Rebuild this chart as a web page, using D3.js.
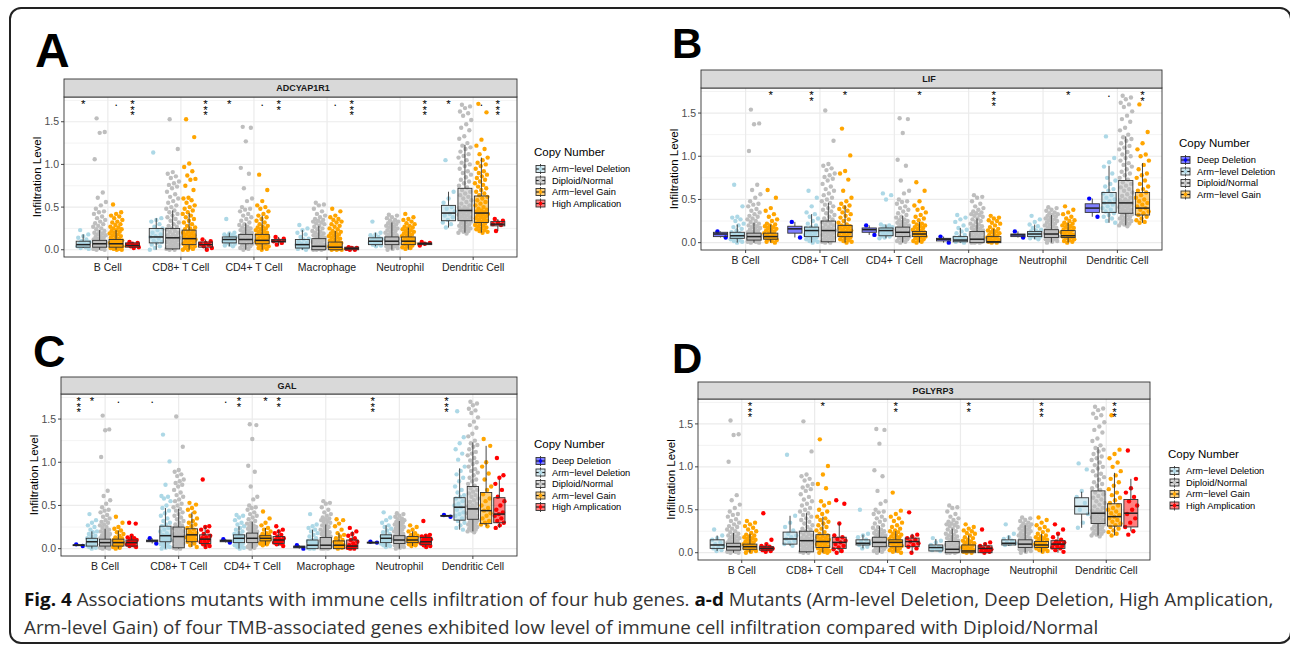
<!DOCTYPE html>
<html>
<head>
<meta charset="utf-8">
<script src="https://cdn.jsdelivr.net/npm/d3@7"></script>
<style>
body { margin: 0; background: #fff; }
svg { display: block; }
</style>
</head>
<body>
<script>
var cells = ["B Cell", "CD8+ T Cell", "CD4+ T Cell", "Macrophage", "Neutrophil", "Dendritic Cell"];
var yTicks = [0, 0.5, 1.0, 1.5];
var yMinor = [0.25, 0.75, 1.25, 1.75];

var colDeep = "#0000FF", colDel = "#ADD8E6", colDip = "#BEBEBE", colGain = "#FFA500", colAmp = "#FF0000";

// box = [lower whisker, Q1, median, Q3, upper whisker], pts = sample values (jittered)
// Diploid/Normal looks the same in all four genes
var diploid = [
  {box: [0.0, 0.03, 0.07, 0.11, 0.23], pts: [1.54,1.38,1.37,1.06,0.67,0.61,0.56,0.52,0.48,0.45,0.44,0.42,0.39,0.37,0.35,0.33,0.31,0.3,0.28,0.27,0.25,0.24,0.22,0.21,0.2,0.19,0.18,0.17,0.16,0.15,0.14,0.13,0.12,0.12,0.11,0.1,0.1,0.09,0.09,0.08,0.08,0.07,0.07,0.06,0.06,0.05,0.05,0.04,0.04,0.03,0.03,0.02,0.02,0.01,0.01,0.0,0.0]},
  {box: [0.0, 0.01, 0.14, 0.25, 0.46], pts: [1.53,1.18,0.91,0.89,0.86,0.84,0.8,0.78,0.76,0.74,0.72,0.68,0.65,0.62,0.6,0.57,0.55,0.52,0.5,0.48,0.46,0.44,0.42,0.4,0.38,0.36,0.34,0.32,0.3,0.28,0.27,0.25,0.24,0.22,0.21,0.2,0.18,0.17,0.16,0.15,0.14,0.13,0.12,0.11,0.1,0.09,0.08,0.07,0.06,0.05,0.04,0.03,0.02,0.01,0.0,0.0]},
  {box: [0.0, 0.07, 0.12, 0.18, 0.31], pts: [1.44,1.43,1.27,0.96,0.89,0.72,0.6,0.57,0.5,0.48,0.47,0.45,0.42,0.4,0.38,0.36,0.34,0.32,0.3,0.29,0.27,0.26,0.25,0.24,0.23,0.22,0.21,0.2,0.19,0.18,0.17,0.16,0.15,0.14,0.13,0.12,0.11,0.1,0.09,0.08,0.07,0.06,0.05,0.04,0.03,0.02,0.01,0.0]},
  {box: [0.0, 0.0, 0.04, 0.13, 0.28], pts: [0.55,0.53,0.52,0.48,0.45,0.42,0.4,0.38,0.36,0.35,0.34,0.33,0.32,0.31,0.3,0.28,0.27,0.25,0.24,0.22,0.21,0.2,0.19,0.18,0.17,0.16,0.15,0.14,0.13,0.12,0.11,0.1,0.09,0.08,0.07,0.06,0.05,0.04,0.04,0.03,0.03,0.02,0.02,0.01,0.01,0.0,0.0,0.0]},
  {box: [0.0, 0.06, 0.1, 0.15, 0.32], pts: [0.41,0.4,0.38,0.37,0.35,0.34,0.33,0.32,0.31,0.3,0.29,0.28,0.27,0.26,0.25,0.24,0.23,0.22,0.21,0.2,0.19,0.18,0.17,0.16,0.15,0.14,0.14,0.13,0.13,0.12,0.12,0.11,0.11,0.1,0.1,0.09,0.09,0.08,0.08,0.07,0.07,0.06,0.06,0.05,0.05,0.04,0.04,0.03,0.02,0.01,0.0]},
  {box: [0.2, 0.34, 0.46, 0.72, 1.23], pts: [1.7,1.68,1.66,1.62,1.6,1.57,1.52,1.47,1.43,1.4,1.33,1.3,1.25,1.22,1.2,1.18,1.15,1.12,1.1,1.08,1.05,1.02,1.0,0.98,0.95,0.92,0.9,0.88,0.85,0.82,0.8,0.78,0.75,0.73,0.7,0.68,0.66,0.64,0.62,0.6,0.58,0.56,0.54,0.52,0.5,0.49,0.48,0.47,0.46,0.45,0.44,0.43,0.42,0.41,0.4,0.39,0.38,0.37,0.36,0.35,0.34,0.33,0.32,0.31,0.3,0.29,0.28,0.27,0.26,0.25,0.24,0.23,0.22,0.21,0.2,0.19]}
];

// ADCYAP1R1
var adcyDel = [
  {box: [0.02, 0.03, 0.06, 0.1, 0.18], pts: [0.23,0.18,0.16,0.14,0.12,0.1,0.09,0.08,0.07,0.06,0.05,0.04,0.03,0.02,0.01]},
  {box: [0.0, 0.08, 0.15, 0.25, 0.37], pts: [1.14,0.37,0.35,0.33,0.3,0.27,0.25,0.23,0.2,0.18,0.16,0.15,0.13,0.11,0.09,0.08,0.06,0.04,0.02,0.0]},
  {box: [0.04, 0.08, 0.12, 0.15, 0.2], pts: [0.36,0.2,0.19,0.18,0.17,0.16,0.15,0.14,0.13,0.12,0.11,0.1,0.09,0.08,0.07,0.06,0.05,0.04]},
  {box: [0.0, 0.02, 0.06, 0.12, 0.23], pts: [0.29,0.25,0.23,0.2,0.18,0.15,0.13,0.12,0.1,0.08,0.07,0.06,0.05,0.04,0.03,0.02,0.01,0.0]},
  {box: [0.04, 0.06, 0.1, 0.14, 0.2], pts: [0.33,0.2,0.18,0.17,0.15,0.14,0.13,0.12,0.11,0.1,0.09,0.08,0.07,0.06,0.05,0.04]},
  {box: [0.26, 0.34, 0.43, 0.52, 0.68], pts: [1.05,0.68,0.6,0.55,0.5,0.48,0.45,0.42,0.4,0.38,0.35,0.32,0.3,0.26]}
];
var adcyGain = [
  {box: [0.0, 0.03, 0.07, 0.12, 0.23], pts: [0.53,0.44,0.42,0.4,0.39,0.37,0.35,0.33,0.32,0.3,0.29,0.27,0.26,0.25,0.24,0.23,0.22,0.21,0.2,0.19,0.18,0.17,0.16,0.15,0.14,0.13,0.12,0.11,0.1,0.1,0.09,0.09,0.08,0.08,0.07,0.07,0.06,0.06,0.05,0.05,0.04,0.04,0.03,0.03,0.02,0.02,0.01,0.01,0.0,0.0]},
  {box: [0.0, 0.06, 0.13, 0.23, 0.43], pts: [1.53,1.32,1.01,0.97,0.92,0.87,0.83,0.82,0.75,0.7,0.61,0.6,0.58,0.55,0.52,0.5,0.48,0.46,0.44,0.42,0.4,0.38,0.36,0.34,0.32,0.3,0.28,0.26,0.25,0.24,0.22,0.21,0.2,0.19,0.18,0.17,0.16,0.15,0.14,0.13,0.12,0.11,0.1,0.09,0.08,0.07,0.06,0.05,0.04,0.03,0.02,0.01,0.0,0.0]},
  {box: [0.0, 0.07, 0.11, 0.18, 0.4], pts: [0.88,0.7,0.57,0.52,0.5,0.48,0.45,0.42,0.4,0.38,0.36,0.34,0.32,0.3,0.28,0.27,0.26,0.25,0.24,0.23,0.22,0.21,0.2,0.19,0.18,0.17,0.16,0.15,0.14,0.13,0.12,0.11,0.1,0.1,0.09,0.09,0.08,0.07,0.06,0.05,0.04,0.03,0.02,0.01,0.0]},
  {box: [0.0, 0.0, 0.03, 0.09, 0.22], pts: [0.48,0.45,0.4,0.38,0.36,0.35,0.33,0.32,0.3,0.28,0.27,0.25,0.24,0.22,0.21,0.2,0.19,0.18,0.17,0.16,0.15,0.14,0.13,0.12,0.11,0.1,0.09,0.08,0.07,0.06,0.05,0.05,0.04,0.04,0.03,0.03,0.02,0.02,0.01,0.01,0.0,0.0,0.0]},
  {box: [0.0, 0.06, 0.1, 0.15, 0.26], pts: [0.42,0.38,0.36,0.35,0.33,0.31,0.3,0.28,0.27,0.26,0.25,0.24,0.23,0.22,0.21,0.2,0.19,0.18,0.17,0.16,0.15,0.14,0.13,0.12,0.11,0.1,0.09,0.08,0.07,0.06,0.05,0.04,0.03,0.02,0.01]},
  {box: [0.2, 0.32, 0.43, 0.63, 1.08], pts: [1.71,1.61,1.29,1.22,1.18,1.12,1.08,1.05,1.02,1.0,0.98,0.95,0.92,0.9,0.88,0.86,0.84,0.82,0.8,0.78,0.76,0.74,0.72,0.7,0.68,0.66,0.64,0.62,0.6,0.58,0.56,0.54,0.52,0.5,0.48,0.47,0.46,0.45,0.44,0.43,0.42,0.41,0.4,0.39,0.38,0.37,0.36,0.35,0.34,0.33,0.32,0.31,0.3,0.29,0.28,0.27,0.26,0.25,0.24,0.23,0.22,0.21,0.2]}
];
var adcyAmp = [
  {box: [0.02, 0.03, 0.05, 0.08, 0.09], pts: [0.09,0.08,0.07,0.06,0.05,0.04,0.03,0.02]},
  {box: [0.0, 0.03, 0.06, 0.09, 0.12], pts: [0.12,0.1,0.08,0.07,0.06,0.04,0.02,0.0]},
  {box: [0.05, 0.09, 0.1, 0.12, 0.15], pts: [0.15,0.13,0.11,0.1,0.08,0.06]},
  {box: [0.0, 0.0, 0.015, 0.03, 0.03], pts: [0.03,0.02,0.02,0.01,0.0,0.0]},
  {box: [0.05, 0.06, 0.07, 0.08, 0.09], pts: [0.09,0.08,0.07,0.05]},
  {box: [0.22, 0.28, 0.3, 0.33, 0.36], pts: [0.36,0.34,0.32,0.3,0.29,0.22]}
];
var adcySig = [
  ["*", "", "*", "", "", "*"],
  null,
  [".", "", ".", ".", "", "."],
  ["***", "***", "**", "***", "***", "***"]
];

// LIF
var lifDeep = [
  {box: [0.06, 0.07, 0.1, 0.12, 0.13], pts: [0.13,0.06]},
  {box: [0.06, 0.11, 0.16, 0.19, 0.24], pts: [0.24,0.06]},
  {box: [0.09, 0.12, 0.15, 0.17, 0.2], pts: [0.2,0.09]},
  {box: [0.0, 0.02, 0.04, 0.05, 0.07], pts: [0.07,0.0]},
  {box: [0.06, 0.07, 0.09, 0.1, 0.13], pts: [0.13,0.06]},
  {box: [0.3, 0.35, 0.4, 0.45, 0.51], pts: [0.51,0.3]}
];
var lifDel = [
  {box: [0.0, 0.05, 0.08, 0.12, 0.21], pts: [0.67,0.42,0.3,0.29,0.27,0.25,0.22,0.2,0.18,0.16,0.14,0.12,0.11,0.1,0.09,0.08,0.07,0.06,0.05,0.04,0.03,0.02,0.01,0.0]},
  {box: [0.0, 0.07, 0.14, 0.18, 0.33], pts: [0.6,0.52,0.42,0.35,0.33,0.3,0.28,0.25,0.22,0.2,0.18,0.17,0.16,0.15,0.14,0.13,0.12,0.11,0.1,0.09,0.08,0.07,0.06,0.05,0.04,0.03,0.02,0.01,0.0]},
  {box: [0.05, 0.08, 0.14, 0.17, 0.21], pts: [0.57,0.55,0.5,0.21,0.2,0.19,0.18,0.17,0.16,0.15,0.14,0.13,0.12,0.11,0.1,0.09,0.08,0.07,0.06,0.05]},
  {box: [0.0, 0.01, 0.03, 0.07, 0.17], pts: [0.32,0.29,0.27,0.24,0.2,0.17,0.15,0.13,0.11,0.09,0.07,0.06,0.05,0.04,0.03,0.02,0.01,0.0]},
  {box: [0.04, 0.07, 0.1, 0.13, 0.21], pts: [0.31,0.27,0.24,0.21,0.19,0.17,0.15,0.14,0.13,0.12,0.11,0.1,0.09,0.08,0.07,0.06,0.05,0.04]},
  {box: [0.23, 0.35, 0.46, 0.58, 0.89], pts: [1.23,0.98,0.93,0.88,0.8,0.75,0.72,0.68,0.65,0.62,0.6,0.57,0.55,0.52,0.5,0.48,0.46,0.44,0.42,0.4,0.38,0.36,0.34,0.32,0.3,0.28,0.25,0.23]}
];
var lifGain = [
  {box: [0.0, 0.04, 0.07, 0.11, 0.21], pts: [0.61,0.52,0.4,0.37,0.33,0.3,0.27,0.25,0.22,0.21,0.2,0.19,0.18,0.17,0.16,0.15,0.14,0.13,0.12,0.11,0.1,0.09,0.08,0.07,0.06,0.05,0.04,0.03,0.02,0.01,0.0]},
  {box: [0.0, 0.07, 0.12, 0.2, 0.43], pts: [1.32,1.01,0.83,0.8,0.73,0.6,0.52,0.48,0.45,0.43,0.41,0.39,0.37,0.35,0.33,0.31,0.29,0.27,0.25,0.23,0.21,0.2,0.19,0.18,0.17,0.16,0.15,0.14,0.13,0.12,0.11,0.1,0.09,0.08,0.07,0.06,0.05,0.04,0.03,0.02,0.01,0.0]},
  {box: [0.0, 0.07, 0.1, 0.13, 0.24], pts: [0.7,0.6,0.48,0.43,0.4,0.38,0.35,0.32,0.3,0.28,0.26,0.24,0.22,0.21,0.2,0.19,0.18,0.17,0.16,0.15,0.14,0.13,0.12,0.11,0.1,0.09,0.08,0.07,0.06,0.05,0.04,0.03,0.02,0.01,0.0]},
  {box: [0.0, 0.0, 0.01, 0.07, 0.16], pts: [0.31,0.29,0.28,0.26,0.25,0.23,0.22,0.2,0.18,0.16,0.15,0.14,0.13,0.12,0.11,0.1,0.09,0.08,0.07,0.06,0.05,0.04,0.03,0.02,0.01,0.0,0.0]},
  {box: [0.0, 0.06, 0.08, 0.14, 0.23], pts: [0.42,0.38,0.35,0.33,0.3,0.28,0.26,0.25,0.23,0.22,0.21,0.2,0.19,0.18,0.17,0.16,0.15,0.14,0.13,0.12,0.11,0.1,0.09,0.08,0.07,0.06,0.05,0.04,0.03,0.02,0.01,0.0]},
  {box: [0.23, 0.32, 0.4, 0.58, 0.92], pts: [1.6,1.28,1.15,1.08,1.02,1.0,0.95,0.9,0.85,0.8,0.78,0.75,0.72,0.68,0.65,0.62,0.6,0.58,0.55,0.52,0.5,0.48,0.46,0.44,0.42,0.4,0.38,0.36,0.34,0.32,0.3,0.28,0.26,0.24,0.23]}
];
var lifSig = [
  ["", "", "", "", "", ""],
  ["", "**", "", "", "", "."],
  null,
  ["*", "*", "*", "***", "*", "**"]
];

// GAL
var galDeep = [
  {box: [0.03, 0.035, 0.04, 0.045, 0.05], pts: [0.05,0.03]},
  {box: [0.06, 0.08, 0.09, 0.1, 0.12], pts: [0.12,0.06]},
  {box: [0.07, 0.08, 0.09, 0.1, 0.11], pts: [0.11,0.07]},
  {box: [0.0, 0.01, 0.02, 0.03, 0.04], pts: [0.04,0.0]},
  {box: [0.06, 0.065, 0.07, 0.075, 0.08], pts: [0.08,0.07]},
  {box: [0.37, 0.375, 0.38, 0.385, 0.39], pts: [0.39,0.37]}
];
var galDel = [
  {box: [0.0, 0.03, 0.08, 0.12, 0.2], pts: [0.4,0.33,0.3,0.27,0.25,0.22,0.2,0.19,0.17,0.15,0.14,0.12,0.11,0.1,0.09,0.08,0.07,0.06,0.05,0.04,0.03,0.02,0.01,0.0]},
  {box: [0.0, 0.08, 0.15, 0.26, 0.47], pts: [1.32,1.01,0.74,0.61,0.6,0.58,0.55,0.5,0.47,0.44,0.41,0.38,0.35,0.32,0.3,0.28,0.26,0.24,0.22,0.2,0.18,0.16,0.15,0.14,0.13,0.12,0.11,0.1,0.09,0.08,0.07,0.06,0.05,0.04,0.03,0.02,0.01,0.0]},
  {box: [0.0, 0.07, 0.12, 0.16, 0.26], pts: [0.39,0.38,0.36,0.33,0.3,0.28,0.26,0.24,0.22,0.2,0.18,0.17,0.16,0.15,0.14,0.13,0.12,0.11,0.1,0.09,0.08,0.07,0.06,0.05,0.04,0.03,0.02,0.01,0.0]},
  {box: [0.0, 0.0, 0.04, 0.1, 0.22], pts: [0.4,0.28,0.26,0.24,0.22,0.2,0.18,0.16,0.14,0.12,0.1,0.09,0.08,0.07,0.06,0.05,0.04,0.03,0.02,0.01,0.0,0.0]},
  {box: [0.02, 0.07, 0.12, 0.16, 0.27], pts: [0.42,0.36,0.33,0.3,0.27,0.25,0.23,0.21,0.19,0.17,0.15,0.14,0.13,0.12,0.11,0.1,0.09,0.08,0.07,0.06,0.05,0.04,0.03,0.02]},
  {box: [0.22, 0.33, 0.48, 0.59, 0.93], pts: [1.59,1.29,1.22,1.15,1.1,1.03,0.95,0.9,0.86,0.82,0.78,0.72,0.68,0.65,0.62,0.6,0.58,0.55,0.52,0.5,0.48,0.45,0.42,0.4,0.38,0.35,0.32,0.3,0.27,0.24,0.22]}
];
var galGain = [
  {box: [0.0, 0.03, 0.07, 0.11, 0.21], pts: [0.37,0.3,0.25,0.23,0.21,0.19,0.17,0.15,0.13,0.12,0.11,0.1,0.09,0.08,0.07,0.06,0.05,0.04,0.03,0.02,0.01,0.0]},
  {box: [0.02, 0.08, 0.16, 0.23, 0.42], pts: [0.53,0.51,0.47,0.45,0.42,0.38,0.35,0.32,0.3,0.28,0.26,0.24,0.22,0.2,0.18,0.17,0.16,0.15,0.14,0.13,0.12,0.11,0.1,0.09,0.08,0.06,0.04,0.02]},
  {box: [0.04, 0.09, 0.12, 0.15, 0.24], pts: [0.43,0.35,0.3,0.27,0.24,0.22,0.2,0.18,0.17,0.16,0.15,0.14,0.13,0.12,0.11,0.1,0.09,0.08,0.07,0.06,0.05,0.04]},
  {box: [0.0, 0.0, 0.04, 0.09, 0.18], pts: [0.34,0.33,0.29,0.26,0.22,0.18,0.16,0.14,0.12,0.1,0.09,0.08,0.06,0.05,0.04,0.03,0.02,0.01,0.0]},
  {box: [0.03, 0.07, 0.1, 0.14, 0.2], pts: [0.27,0.25,0.22,0.2,0.18,0.16,0.15,0.14,0.13,0.12,0.11,0.1,0.09,0.08,0.07,0.06,0.05,0.04,0.03]},
  {box: [0.26, 0.29, 0.44, 0.65, 1.19], pts: [1.27,1.19,1.0,0.95,0.87,0.8,0.72,0.68,0.63,0.58,0.55,0.5,0.47,0.44,0.41,0.38,0.35,0.32,0.3,0.28,0.26]}
];
var galAmp = [
  {box: [0.02, 0.03, 0.07, 0.1, 0.15], pts: [0.3,0.29,0.15,0.13,0.12,0.11,0.1,0.09,0.08,0.07,0.06,0.05,0.04,0.03,0.02]},
  {box: [0.02, 0.06, 0.11, 0.16, 0.26], pts: [0.8,0.26,0.25,0.22,0.2,0.17,0.15,0.13,0.12,0.1,0.09,0.08,0.06,0.05,0.03,0.02]},
  {box: [0.03, 0.06, 0.1, 0.14, 0.22], pts: [0.26,0.22,0.2,0.18,0.16,0.14,0.12,0.11,0.1,0.09,0.08,0.07,0.06,0.05,0.03]},
  {box: [0.0, 0.0, 0.03, 0.1, 0.2], pts: [0.24,0.2,0.17,0.15,0.12,0.1,0.08,0.06,0.04,0.03,0.02,0.01,0.0,0.0]},
  {box: [0.02, 0.05, 0.08, 0.13, 0.16], pts: [0.32,0.16,0.15,0.14,0.13,0.12,0.11,0.1,0.09,0.08,0.07,0.06,0.05,0.04,0.03,0.02]},
  {box: [0.24, 0.3, 0.4, 0.59, 0.8], pts: [1.05,0.85,0.82,0.75,0.68,0.6,0.55,0.5,0.45,0.42,0.4,0.38,0.35,0.32,0.3,0.27,0.24]}
];
var galSig = [
  ["***", ".", ".", "", "***", "***"],
  ["*", "", "**", "", "", ""],
  null,
  [".", "", "*", "", "", ""],
  ["", "", "**", "", "", ""]
];

// PGLYRP3
var pglyDel = [
  {box: [0.02, 0.05, 0.09, 0.15, 0.2], pts: [0.27,0.2,0.17,0.15,0.12,0.1,0.08,0.06,0.05,0.03,0.02]},
  {box: [0.08, 0.1, 0.16, 0.24, 0.43], pts: [1.14,0.43,0.35,0.3,0.26,0.22,0.2,0.18,0.16,0.14,0.12,0.1,0.08]},
  {box: [0.05, 0.09, 0.11, 0.15, 0.21], pts: [0.5,0.22,0.2,0.18,0.15,0.13,0.11,0.1,0.09,0.07,0.05]},
  {box: [0.02, 0.02, 0.06, 0.09, 0.16], pts: [0.17,0.14,0.12,0.09,0.07,0.06,0.05,0.04,0.03,0.02]},
  {box: [0.08, 0.09, 0.11, 0.15, 0.2], pts: [0.33,0.22,0.18,0.16,0.14,0.12,0.11,0.1,0.09]},
  {box: [0.29, 0.45, 0.54, 0.64, 0.71], pts: [1.04,0.97,0.72,0.65,0.58,0.5,0.45,0.35,0.29]}
];
var pglyGain = [
  {box: [0.0, 0.04, 0.07, 0.1, 0.22], pts: [0.37,0.35,0.33,0.31,0.29,0.27,0.25,0.23,0.21,0.2,0.19,0.18,0.17,0.16,0.15,0.14,0.13,0.12,0.11,0.1,0.09,0.08,0.07,0.06,0.05,0.04,0.03,0.02,0.01,0.0]},
  {box: [0.0, 0.06, 0.13, 0.21, 0.42], pts: [1.32,1.01,0.91,0.8,0.75,0.6,0.58,0.55,0.5,0.48,0.45,0.42,0.4,0.38,0.36,0.34,0.32,0.3,0.28,0.26,0.24,0.22,0.2,0.19,0.18,0.17,0.16,0.15,0.14,0.13,0.12,0.11,0.1,0.09,0.08,0.07,0.06,0.05,0.04,0.03,0.02,0.01,0.0,0.0]},
  {box: [0.0, 0.07, 0.12, 0.15, 0.25], pts: [0.7,0.49,0.45,0.42,0.4,0.37,0.35,0.32,0.3,0.28,0.26,0.25,0.24,0.22,0.21,0.2,0.19,0.18,0.17,0.16,0.15,0.14,0.13,0.12,0.11,0.1,0.09,0.08,0.07,0.06,0.05,0.04,0.03,0.02,0.01,0.0]},
  {box: [0.0, 0.0, 0.02, 0.09, 0.2], pts: [0.33,0.3,0.28,0.26,0.25,0.23,0.22,0.2,0.18,0.17,0.15,0.14,0.13,0.12,0.11,0.1,0.09,0.08,0.07,0.06,0.05,0.04,0.03,0.02,0.01,0.0,0.0]},
  {box: [0.0, 0.06, 0.09, 0.13, 0.22], pts: [0.41,0.38,0.35,0.32,0.3,0.28,0.26,0.24,0.22,0.2,0.19,0.18,0.17,0.16,0.15,0.14,0.13,0.12,0.11,0.1,0.09,0.08,0.07,0.06,0.05,0.04,0.03,0.02,0.01]},
  {box: [0.2, 0.31, 0.42, 0.57, 0.93], pts: [1.6,1.2,1.15,1.1,1.05,1.0,0.95,0.9,0.86,0.82,0.78,0.74,0.7,0.67,0.64,0.61,0.58,0.55,0.52,0.5,0.48,0.46,0.44,0.42,0.4,0.38,0.36,0.34,0.32,0.3,0.28,0.26,0.24,0.22,0.2]}
];
var pglyAmp = [
  {box: [0.02, 0.03, 0.05, 0.07, 0.1], pts: [0.46,0.15,0.1,0.08,0.07,0.06,0.05,0.04,0.03,0.02,0.01]},
  {box: [0.0, 0.05, 0.12, 0.18, 0.35], pts: [0.61,0.57,0.34,0.2,0.18,0.16,0.14,0.12,0.1,0.08,0.06,0.04,0.02,0.0]},
  {box: [0.0, 0.07, 0.13, 0.17, 0.22], pts: [0.47,0.21,0.19,0.17,0.15,0.13,0.11,0.09,0.07,0.05,0.0]},
  {box: [0.0, 0.0, 0.05, 0.08, 0.12], pts: [0.27,0.12,0.1,0.08,0.06,0.05,0.04,0.03,0.02,0.01,0.0]},
  {box: [0.0, 0.05, 0.1, 0.14, 0.22], pts: [0.33,0.27,0.22,0.18,0.15,0.13,0.12,0.11,0.1,0.08,0.07,0.06,0.05,0.03,0.01]},
  {box: [0.25, 0.3, 0.46, 0.62, 0.86], pts: [1.19,0.86,0.75,0.7,0.65,0.6,0.55,0.5,0.45,0.4,0.35,0.3,0.25,0.21]}
];
var pglySig = [
  ["", "", "", "", "", ""],
  null,
  ["***", "*", "**", "**", "***", "***"],
  ["", "", "", "", "", ""]
];

var gDeep = {name: "Deep Deletion", color: colDeep};
var gDel = {name: "Arm\u2212level Deletion", color: colDel};
var gDip = {name: "Diploid/Normal", color: colDip};
var gGain = {name: "Arm\u2212level Gain", color: colGain};
var gAmp = {name: "High Amplication", color: colAmp};

var panels = [
  {letter: "A", lx: 35, ly: 67, lsize: 48, gene: "ADCYAP1R1", geneX: 303, x0: 64, x1: 517, stripTop: 79, top: 97, bottom: 257, legX: 534, legY: 156,
   groups: [gDel, gDip, gGain, gAmp], data: [adcyDel, diploid, adcyGain, adcyAmp], sig: adcySig},
  {letter: "B", lx: 672, ly: 58, lsize: 42, gene: "LIF", geneX: 929, x0: 701, x1: 1162, stripTop: 70, top: 88, bottom: 250, legX: 1179, legY: 147,
   groups: [gDeep, gDel, gDip, gGain], data: [lifDeep, lifDel, diploid, lifGain], sig: lifSig},
  {letter: "C", lx: 33, ly: 367, lsize: 45, gene: "GAL", geneX: 287, x0: 61, x1: 517, stripTop: 377, top: 394, bottom: 556, legX: 534, legY: 448,
   groups: [gDeep, gDel, gDip, gGain, gAmp], data: [galDeep, galDel, diploid, galGain, galAmp], sig: galSig},
  {letter: "D", lx: 672, ly: 373, lsize: 42, gene: "PGLYRP3", geneX: 933, x0: 698, x1: 1150, stripTop: 382, top: 399, bottom: 560, legX: 1168, legY: 458,
   groups: [gDel, gDip, gGain, gAmp], data: [pglyDel, diploid, pglyGain, pglyAmp], sig: pglySig}
];

var svg = d3.select("body").append("svg")
    .attr("width", 1290)
    .attr("height", 645)
    .style("font-family", "'Liberation Sans', Arial, Helvetica, sans-serif");

svg.append("rect")
    .attr("x", 10).attr("y", 8)
    .attr("width", 1281).attr("height", 635)
    .attr("rx", 11)
    .attr("fill", "#fff").attr("stroke", "#222").attr("stroke-width", 2);

panels.forEach(drawPanel);

function drawPanel(p) {
  var x = d3.scalePoint().domain(cells).range([p.x0, p.x1]).padding(0.6);
  var y = d3.scaleLinear().domain([-0.085, 1.79]).range([p.bottom, p.top]);
  var n = p.groups.length,
      slot = x.step() * 0.9 / n,
      bw = slot * 0.85;

  var g = svg.append("g");

  g.append("text")
      .attr("x", p.lx).attr("y", p.ly)
      .attr("font-size", p.lsize).attr("font-weight", "bold")
      .text(p.letter);

  // grid
  g.selectAll(null).data(yMinor).enter().append("line")
      .attr("x1", p.x0).attr("x2", p.x1)
      .attr("y1", function(d) { return y(d); }).attr("y2", function(d) { return y(d); })
      .attr("stroke", "#EBEBEB").attr("stroke-width", 0.6);
  g.selectAll(null).data(yTicks).enter().append("line")
      .attr("x1", p.x0).attr("x2", p.x1)
      .attr("y1", function(d) { return y(d); }).attr("y2", function(d) { return y(d); })
      .attr("stroke", "#EBEBEB").attr("stroke-width", 1.2);
  g.selectAll(null).data(cells).enter().append("line")
      .attr("x1", function(d) { return x(d); }).attr("x2", function(d) { return x(d); })
      .attr("y1", p.top).attr("y2", p.bottom)
      .attr("stroke", "#EBEBEB").attr("stroke-width", 1.2);

  // jittered points
  p.data.forEach(function(series, gi) {
    var off = (gi - (n - 1) / 2) * slot;
    series.forEach(function(d, ci) {
      var cx = x(cells[ci]) + off;
      g.selectAll(null).data(d.pts).enter().append("circle")
          .attr("cx", function(v, i) { return cx + (((i * 0.618034 + 0.27) % 1) - 0.5) * slot * 0.8; })
          .attr("cy", function(v) { return y(v); })
          .attr("r", 2.2)
          .attr("fill", p.groups[gi].color);
    });
  });

  // boxes
  p.data.forEach(function(series, gi) {
    var off = (gi - (n - 1) / 2) * slot;
    var col = p.groups[gi].color;
    series.forEach(function(d, ci) {
      var cx = x(cells[ci]) + off, b = d.box;
      var bg = g.append("g");
      bg.append("line").attr("x1", cx).attr("x2", cx).attr("y1", y(b[4])).attr("y2", y(b[3]))
          .attr("stroke", "#333").attr("stroke-width", 0.9);
      bg.append("line").attr("x1", cx).attr("x2", cx).attr("y1", y(b[1])).attr("y2", y(b[0]))
          .attr("stroke", "#333").attr("stroke-width", 0.9);
      bg.append("rect")
          .attr("x", cx - bw / 2).attr("width", bw)
          .attr("y", y(b[3])).attr("height", Math.max(0.5, y(b[1]) - y(b[3])))
          .attr("fill", col).attr("fill-opacity", 0.5)
          .attr("stroke", "#333").attr("stroke-width", 0.9);
      bg.append("line").attr("x1", cx - bw / 2).attr("x2", cx + bw / 2).attr("y1", y(b[2])).attr("y2", y(b[2]))
          .attr("stroke", "#222").attr("stroke-width", 1.5);
    });
  });

  // significance marks: vertical text, stars stacked upright
  p.sig.forEach(function(row, gi) {
    if (!row) return;
    var off = (gi - (n - 1) / 2) * slot;
    row.forEach(function(lab, ci) {
      if (!lab) return;
      var cx = x(cells[ci]) + off;
      if (lab === ".") {
        g.append("text").attr("x", cx).attr("y", p.top + 9)
            .attr("text-anchor", "middle").attr("font-size", 12).attr("fill", "#000").text(".");
      } else {
        g.append("text")
            .attr("x", cx).attr("y", p.top + 1)
            .style("writing-mode", "vertical-rl")
            .style("text-orientation", "upright")
            .style("letter-spacing", "-6.5px")
            .attr("font-size", 11.5).attr("fill", "#000")
            .text(lab);
      }
    });
  });

  // panel border and strip
  g.append("rect").attr("x", p.x0).attr("y", p.top).attr("width", p.x1 - p.x0).attr("height", p.bottom - p.top)
      .attr("fill", "none").attr("stroke", "#333").attr("stroke-width", 0.9);
  g.append("rect").attr("x", p.x0).attr("y", p.stripTop).attr("width", p.x1 - p.x0).attr("height", p.top - p.stripTop)
      .attr("fill", "#D9D9D9").attr("stroke", "#333").attr("stroke-width", 0.9);
  g.append("text").attr("x", p.geneX).attr("y", (p.stripTop + p.top) / 2 + 3.3)
      .attr("text-anchor", "middle").attr("font-size", 9).attr("font-weight", "bold").attr("fill", "#1A1A1A")
      .text(p.gene);

  // y axis
  g.selectAll(null).data(yTicks).enter().append("line")
      .attr("x1", p.x0 - 3).attr("x2", p.x0)
      .attr("y1", function(d) { return y(d); }).attr("y2", function(d) { return y(d); })
      .attr("stroke", "#333").attr("stroke-width", 0.9);
  g.selectAll(null).data(yTicks).enter().append("text")
      .attr("x", p.x0 - 5).attr("y", function(d) { return y(d) + 3.6; })
      .attr("text-anchor", "end").attr("font-size", 10.5).attr("fill", "#4D4D4D")
      .text(function(d) { return d3.format(".1f")(d); });
  g.append("text")
      .attr("transform", "translate(" + (p.x0 - 27) + "," + ((p.top + p.bottom) / 2) + ") rotate(-90)")
      .attr("text-anchor", "middle").attr("dy", "0.35em").attr("font-size", 11.5).attr("fill", "#000")
      .text("Infiltration Level");

  // x axis
  g.selectAll(null).data(cells).enter().append("line")
      .attr("x1", function(d) { return x(d); }).attr("x2", function(d) { return x(d); })
      .attr("y1", p.bottom).attr("y2", p.bottom + 3)
      .attr("stroke", "#333").attr("stroke-width", 0.9);
  g.selectAll(null).data(cells).enter().append("text")
      .attr("x", function(d) { return x(d); }).attr("y", p.bottom + 14)
      .attr("text-anchor", "middle").attr("font-size", 10.5).attr("fill", "#222")
      .text(function(d) { return d; });

  // legend
  var lg = g.append("g");
  lg.append("text").attr("x", p.legX).attr("y", p.legY)
      .attr("font-size", 11.5).attr("fill", "#000").text("Copy Number");
  p.groups.forEach(function(gr, i) {
    var yc = p.legY + 13 + i * 11.5, kx = p.legX + 6.5;
    lg.append("line").attr("x1", kx).attr("x2", kx).attr("y1", yc - 5).attr("y2", yc + 5)
        .attr("stroke", "#333").attr("stroke-width", 0.9);
    lg.append("rect").attr("x", kx - 4.5).attr("y", yc - 3.5).attr("width", 9).attr("height", 7)
        .attr("fill", gr.color).attr("fill-opacity", 0.5).attr("stroke", "#333").attr("stroke-width", 0.9);
    lg.append("line").attr("x1", kx - 4.5).attr("x2", kx + 4.5).attr("y1", yc).attr("y2", yc)
        .attr("stroke", "#222").attr("stroke-width", 1.2);
    lg.append("circle").attr("cx", kx).attr("cy", yc).attr("r", 1.8).attr("fill", gr.color);
    lg.append("text").attr("x", p.legX + 18).attr("y", yc + 3.3)
        .attr("font-size", 9.3).attr("fill", "#000").text(gr.name);
  });
}

// caption
var cap = svg.append("g").style("font-family", "'Open Sans', 'Noto Sans', sans-serif").attr("font-size", 18).attr("fill", "#333");
var line1 = cap.append("text").attr("x", 0).attr("y", 0);
line1.append("tspan").attr("font-weight", "bold").attr("fill", "#111").text("Fig. 4");
line1.append("tspan").text(" Associations mutants with immune cells infiltration of four hub genes. ");
line1.append("tspan").attr("font-weight", "bold").attr("fill", "#111").text("a-d");
line1.append("tspan").text(" Mutants (Arm-level Deletion, Deep Deletion, High Amplication,");
var line2 = cap.append("text").attr("x", 0).attr("y", 28)
    .text("Arm-level Gain) of four TMB-associated genes exhibited low level of immune cell infiltration compared with Diploid/Normal");
var sx = 1250 / line1.node().getComputedTextLength();
cap.attr("transform", "translate(24,606) scale(" + sx + ",1)");
</script>
</body>
</html>
